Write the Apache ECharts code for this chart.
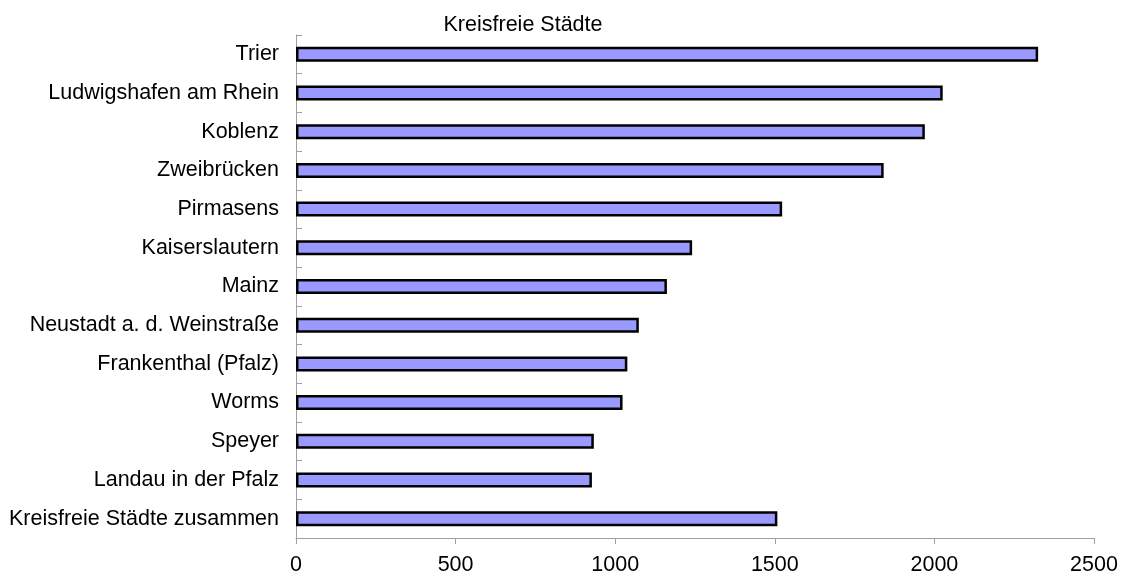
<!DOCTYPE html>
<html>
<head>
<meta charset="utf-8">
<script src="https://cdn.jsdelivr.net/npm/echarts@6/dist/echarts.min.js"></script>
<style>
html,body{margin:0;padding:0;background:#fff;}
#chart{width:1126px;height:583px;}
</style>
</head>
<body>
<div id="chart"></div>
<script>
const titleText = 'Kreisfreie Städte';
const categories = ['Trier','Ludwigshafen am Rhein','Koblenz','Zweibrücken','Pirmasens','Kaiserslautern','Mainz','Neustadt a. d. Weinstraße','Frankenthal (Pfalz)','Worms','Speyer','Landau in der Pfalz','Kreisfreie Städte zusammen'];
const values = [2325, 2026, 1970, 1841, 1523, 1241, 1162, 1074, 1038, 1023, 933, 927, 1508];
const xTicks = {min: 0, max: 2500, interval: 500};

const chart = echarts.init(document.getElementById('chart'));
const font = 'Liberation Sans, Arial, sans-serif';
chart.setOption({
  animation: false,
  backgroundColor: '#ffffff',
  title: {
    text: titleText,
    left: 518, top: 9, textAlign: 'center',
    textStyle: {fontFamily: font, fontSize: 21.5, fontWeight: 'normal', color: '#000'}
  },
  grid: {left: 296, right: 32, top: 35, bottom: 45, containLabel: false},
  xAxis: {
    type: 'value',
    min: xTicks.min, max: xTicks.max, interval: xTicks.interval,
    axisLine: {show: true, lineStyle: {color: '#a0a0a0', width: 1}},
    axisTick: {show: true, length: 6, lineStyle: {color: '#a0a0a0'}},
    splitLine: {show: false},
    axisLabel: {fontFamily: font, fontSize: 21.5, color: '#000', margin: 16, formatter: v => String(v)}
  },
  yAxis: {
    type: 'category',
    inverse: true,
    data: categories,
    axisLine: {show: true, lineStyle: {color: '#a0a0a0', width: 1}},
    axisTick: {show: true, inside: true, length: 6, lineStyle: {color: '#a0a0a0'}},
    axisLabel: {fontFamily: font, fontSize: 21.5, color: '#000', margin: 17}
  },
  series: [{
    type: 'bar',
    data: values,
    barWidth: 15,
    itemStyle: {color: '#9999ff', borderColor: '#000', borderWidth: 2.5}
  }]
});
</script>
</body>
</html>
